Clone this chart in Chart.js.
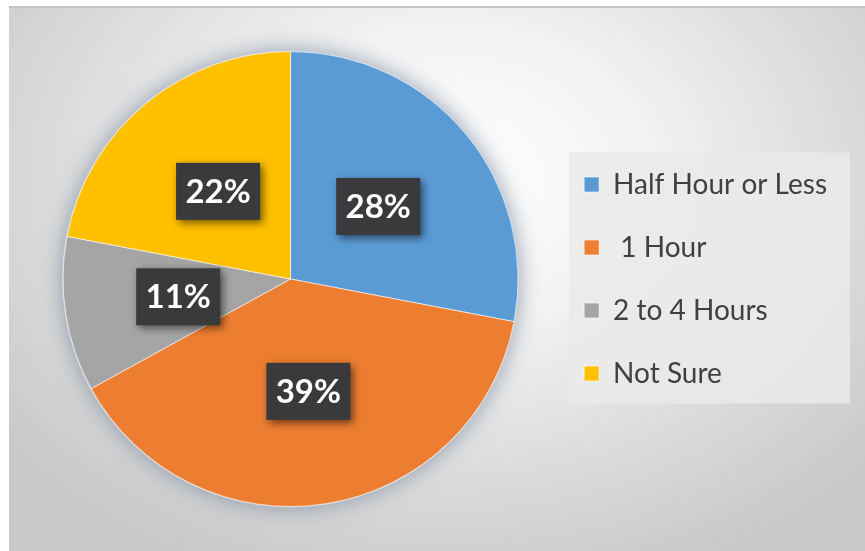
<!DOCTYPE html>
<html>
<head>
<meta charset="utf-8">
<script src="https://cdn.jsdelivr.net/npm/chart.js@4/dist/chart.umd.min.js"></script>
<style>
  html, body { margin: 0; padding: 0; background: #ffffff; }
  #panel {
    position: absolute; left: 9px; top: 6px; width: 856px; height: 543px;
    background: radial-gradient(ellipse 560px 420px at 440px 170px, #ffffff 0%, #f3f3f3 35%, #dcdcdc 70%, #c9c9c9 100%);
    border-top: 2px solid #c2c2c2;
  }
  #panel canvas { position: absolute; left: 0; top: 0; }
</style>
</head>
<body>
<div id="panel"><canvas id="myChart" width="856" height="543"></canvas></div>
<script>
const categories = ['Half Hour or Less', ' 1 Hour', '2 to 4 Hours', 'Not Sure'];
const shares = [28, 39, 11, 22];
const sliceColors = ['#5b9bd5', '#ed7d31', '#a5a5a5', '#ffc000'];

let ctx = document.getElementById('myChart').getContext('2d');

// soft halo under the pie and light box behind the legend
const backdrop = {
    id: 'backdrop',
    beforeDatasetsDraw(chart) {
        const arc = chart.getDatasetMeta(0).data[0];
        if (!arc) return;
        const c = chart.ctx;
        c.save();
        c.shadowColor = 'rgba(110,125,150,0.7)';
        c.shadowBlur = 22;
        c.fillStyle = '#c9d2dc';
        c.beginPath();
        c.arc(arc.x, arc.y, arc.outerRadius + 1, 0, Math.PI * 2);
        c.fill();
        c.restore();
    },
    beforeDraw(chart) {
        const boxes = chart.legend.legendHitBoxes;
        if (!boxes || !boxes.length) return;
        const first = boxes[0], last = boxes[boxes.length - 1];
        const x0 = first.left - 15;
        const y0 = first.top + first.height / 2 - 32;
        const y1 = last.top + last.height / 2 + 30;
        const c = chart.ctx;
        c.save();
        c.fillStyle = 'rgba(234,234,234,0.85)';
        c.fillRect(x0, y0, 841 - x0, y1 - y0);
        c.restore();
    }
};

// dark value boxes at each slice centroid
const valueBoxes = {
    id: 'valueBoxes',
    afterDatasetsDraw(chart) {
        const c = chart.ctx;
        const meta = chart.getDatasetMeta(0);
        meta.data.forEach(function(arc, i) {
            const pos = arc.tooltipPosition();
            const w = 84, h = 57;
            c.save();
            c.shadowColor = 'rgba(0,0,0,0.55)';
            c.shadowBlur = 8;
            c.shadowOffsetX = 3;
            c.shadowOffsetY = 3;
            c.fillStyle = '#3a3a3c';
            c.fillRect(pos.x - w / 2, pos.y - h / 2, w, h);
            c.restore();
            c.save();
            c.fillStyle = '#ffffff';
            c.font = 'bold 33px Lato, "Open Sans", sans-serif';
            c.textAlign = 'center';
            c.textBaseline = 'middle';
            c.fillText(shares[i] + '%', pos.x, pos.y + 1);
            c.restore();
        });
    }
};

let myPieChart = new Chart(ctx, {
    type: 'pie',
    data: {
        labels: categories,
        datasets: [{
            data: shares,
            backgroundColor: sliceColors,
            borderColor: 'rgba(255,255,255,0.6)',
            borderWidth: 1
        }]
    },
    options: {
        responsive: false,
        animation: false,
        layout: { padding: { left: 23, right: 28, top: 43, bottom: 44 } },
        plugins: {
            tooltip: { enabled: false },
            legend: {
                position: 'right',
                labels: {
                    boxWidth: 15,
                    boxHeight: 15,
                    padding: 35,
                    color: '#404040',
                    font: { family: 'Lato, "Open Sans", sans-serif', size: 28 }
                }
            }
        }
    },
    plugins: [backdrop, valueBoxes]
});
</script>
</body>
</html>
